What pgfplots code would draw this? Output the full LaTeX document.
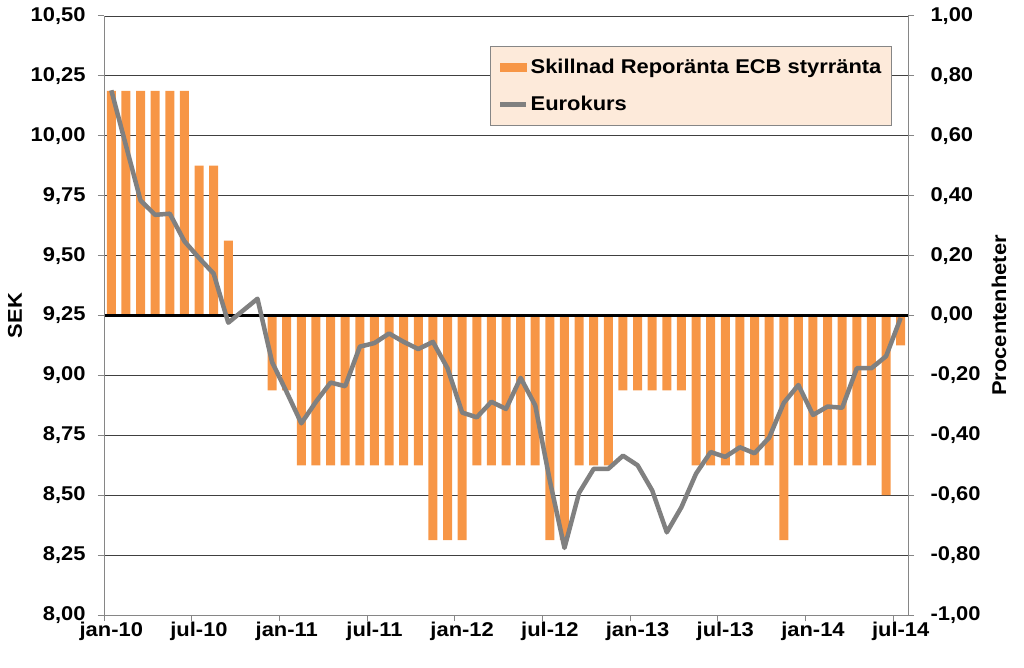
\documentclass[border=0pt]{standalone}
\usepackage{pgfplots}
\pgfplotsset{compat=1.18}
\usepackage{pgfplotstable}
\usepackage{fontspec}
\setmainfont{Liberation Sans}[FakeStretch=1.1]

\definecolor{barorange}{RGB}{247,150,70}
\definecolor{kursgray}{RGB}{128,128,128}
\definecolor{legfill}{RGB}{253,234,218}
\definecolor{axgray}{RGB}{134,134,134}

% idx = month since jan-10; bar = Skillnad (procentenheter); kurs = SEK/EUR
\pgfplotstableread{
idx bar kurs
0 0.75 10.19
1 0.75 9.96
2 0.75 9.73
3 0.75 9.67
4 0.75 9.675
5 0.75 9.56
6 0.50 9.49
7 0.50 9.425
8 0.25 9.22
9 0 9.27
10 0 9.32
11 -0.25 9.055
12 -0.25 8.93
13 -0.50 8.80
14 -0.50 8.89
15 -0.50 8.97
16 -0.50 8.955
17 -0.50 9.12
18 -0.50 9.135
19 -0.50 9.175
20 -0.50 9.14
21 -0.50 9.11
22 -0.75 9.14
23 -0.75 9.03
24 -0.75 8.845
25 -0.50 8.825
26 -0.50 8.89
27 -0.50 8.86
28 -0.50 8.99
29 -0.50 8.875
30 -0.75 8.56
31 -0.75 8.28
32 -0.50 8.51
33 -0.50 8.61
34 -0.50 8.61
35 -0.25 8.665
36 -0.25 8.625
37 -0.25 8.52
38 -0.25 8.345
39 -0.25 8.45
40 -0.50 8.59
41 -0.50 8.68
42 -0.50 8.66
43 -0.50 8.70
44 -0.50 8.675
45 -0.50 8.74
46 -0.75 8.885
47 -0.50 8.96
48 -0.50 8.835
49 -0.50 8.87
50 -0.50 8.865
51 -0.50 9.03
52 -0.50 9.03
53 -0.60 9.08
54 -0.10 9.24
}\data

\begin{document}
\begin{tikzpicture}
\pgfplotsset{
  base/.style={
    width=804bp, height=599bp, scale only axis,
    xmin=-0.5, xmax=54.5,
    tick align=outside, major tick length=6bp,
    axis line style={axgray, line width=1bp},
    ytick style={axgray, line width=1bp},
    tick label style={font=\fontsize{20}{24}\selectfont\bfseries},
    label style={font=\fontsize{20}{24}\selectfont\bfseries},
    /pgf/number format/assume math mode=true,
    yticklabel style={/pgf/number format/fixed, /pgf/number format/fixed zerofill,
      /pgf/number format/precision=2, /pgf/number format/use comma},
  }
}

% bars, right axis
\begin{axis}[base,
  ymin=-1, ymax=1,
  ytick={-1,-0.8,-0.6,-0.4,-0.2,0,0.2,0.4,0.6,0.8,1},
  axis y line*=right, axis x line*=bottom,
  ymajorgrids, grid style={black!75, line width=0.9bp},
  xtick={0,6,...,54},
  xticklabels={jan-10,jul-10,jan-11,jul-11,jan-12,jul-12,jan-13,jul-13,jan-14,jul-14},
  xtick style={draw=none},
  extra x ticks={-0.5,5.5,...,53.5}, extra x tick labels={},
  extra x tick style={xtick style={draw=axgray, line width=1bp}},
  xticklabel style={yshift=2bp},
  yticklabel style={xshift=13bp},
  ylabel={Procentenheter},
  ylabel style={at={([xshift=91bp]rel axis cs:1,0.5)}, anchor=center},
]
\addplot[ybar, bar width=9bp, fill=barorange, draw=none] table[x=idx, y=bar] {\data};
\addplot[black, line width=2.8bp] coordinates {(-0.5,0) (54.5,0)};
\coordinate (sw) at (rel axis cs:0,0);
\coordinate (ne) at (rel axis cs:1,1);
\end{axis}

% euro rate, left axis
\begin{axis}[base,
  ymin=8, ymax=10.5,
  ytick={8,8.25,8.5,8.75,9,9.25,9.5,9.75,10,10.25,10.5},
  axis y line*=left, axis x line=none,
  yticklabel style={xshift=-9bp},
  ylabel={SEK},
  ylabel style={at={([xshift=-89bp]rel axis cs:0,0.5)}, anchor=center},
  legend style={at={(0.980,0.950)}, anchor=north east, fill=legfill,
    draw=axgray, line width=1bp, font=\fontsize{20}{24}\selectfont\bfseries,
    inner xsep=8bp, inner ysep=11bp, row sep=17bp, cells={anchor=west}},
]
\addlegendimage{legend image code/.code={\fill[barorange] (0bp,-4bp) rectangle (26bp,4bp);}}
\addlegendentry{Skillnad Reporänta ECB styrränta}
\addplot[kursgray, line width=4.5bp, line join=round,
  legend image code/.code={\draw[kursgray, line width=4.5bp] (0bp,0bp) -- (26bp,0bp);}]
  table[x=idx, y=kurs] {\data};
\addlegendentry{Eurokurs}
\end{axis}

\pgfresetboundingbox
\path (sw) ++(-104bp,-52bp) rectangle ([shift={(116bp,16bp)}]ne);
\end{tikzpicture}
\end{document}
